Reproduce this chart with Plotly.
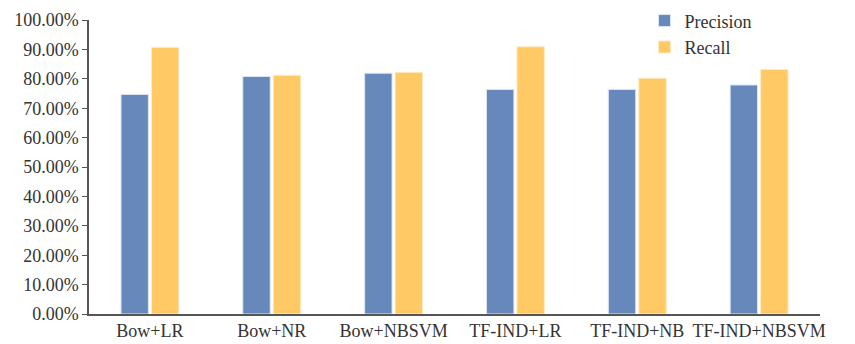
import plotly.graph_objects as go

categories = ["Bow+LR", "Bow+NR", "Bow+NBSVM", "TF-IND+LR", "TF-IND+NB", "TF-IND+NBSVM"]
precision = [0.747, 0.808, 0.819, 0.764, 0.764, 0.779]
recall = [0.907, 0.812, 0.822, 0.909, 0.802, 0.832]

font_family = "Liberation Serif"

fig = go.Figure()
fig.add_trace(go.Bar(x=categories, y=precision, name="Precision",
                     marker=dict(color="#6688BB", line=dict(color="#DCE6F5", width=1))))
fig.add_trace(go.Bar(x=categories, y=recall, name="Recall",
                     marker=dict(color="#FFC966", line=dict(color="#FFEBC2", width=1))))

fig.update_layout(
    width=855, height=344,
    margin=dict(l=89, r=35, t=20, b=30, autoexpand=False),
    paper_bgcolor="white", plot_bgcolor="white",
    barmode="group", bargap=0.5, bargroupgap=0.1,
    font=dict(family=font_family, size=18, color="#333333"),
    legend=dict(x=0.76, y=1.06, xanchor="left", yanchor="top",
                font=dict(family=font_family, size=18, color="#333333"),
                bgcolor="rgba(0,0,0,0)", tracegroupgap=6),
    showlegend=True,
)
fig.update_xaxes(showline=True, linecolor="#555555", linewidth=1.5,
                 ticks="", showgrid=False, automargin=False,
                 tickfont=dict(family=font_family, size=18, color="#333333"))
fig.update_yaxes(range=[0, 1], dtick=0.1, tickformat=".2%",
                 showline=True, linecolor="#555555", linewidth=1.5,
                 ticks="outside", ticklen=5, tickcolor="#555555",
                 showgrid=False, zeroline=False, automargin=False,
                 tickfont=dict(family=font_family, size=18, color="#333333"))

fig.write_html("out.html", config={"displayModeBar": False},
               post_script="document.body.style.margin='0';")
